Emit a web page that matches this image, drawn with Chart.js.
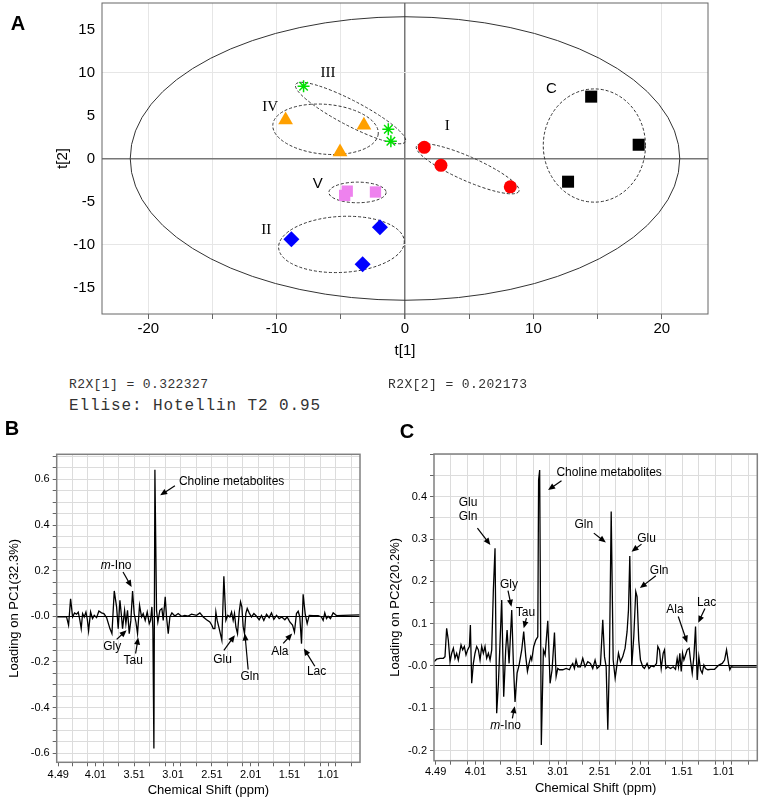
<!DOCTYPE html>
<html>
<head>
<meta charset="utf-8">
<script src="https://cdn.jsdelivr.net/npm/chart.js@4.4.1/dist/chart.umd.min.js"></script>
<style>
  body { margin: 0; background: #fff; width: 771px; height: 804px; position: relative; overflow: hidden;
         font-family: 'Liberation Sans', Arial, sans-serif; }
  .pane { position: absolute; }
  .tag { position: absolute; font-weight: bold; font-size: 20px; transform: translate(-50%, -50%); }
  .mono { position: absolute; font-family: 'Liberation Mono', monospace; color: #333; white-space: pre;
          transform: translateY(-50%); }
</style>
</head>
<body>
<div class="pane" style="left:0;top:0"><canvas id="pca" width="771" height="370"></canvas></div>
<div class="pane" style="left:0;top:420px"><canvas id="pc1" width="385" height="384"></canvas></div>
<div class="pane" style="left:385px;top:420px"><canvas id="pc2" width="386" height="384"></canvas></div>

<div class="tag" style="left:18px;top:23px">A</div>
<div class="tag" style="left:12px;top:428px">B</div>
<div class="tag" style="left:407px;top:431px">C</div>
<div class="mono" style="left:69px;top:384px;font-size:13px;letter-spacing:0.4px">R2X[1] = 0.322327</div>
<div class="mono" style="left:388px;top:384px;font-size:13px;letter-spacing:0.4px">R2X[2] = 0.202173</div>
<div class="mono" style="left:69px;top:406px;font-size:16px;letter-spacing:0.9px">Ellise: Hotellin T2 0.95</div>

<script>
// ---------- panel A: PCA scores ----------
var t1Ticks = [-20, -15, -10, -5, 0, 5, 10, 15, 20];
var t2Ticks = [-15, -10, -5, 0, 5, 10, 15];

var t1C = [14.5, 18.2, 12.7],      t2C = [7.2, 1.6, -2.7];
var t1I = [1.5, 2.8, 8.2],         t2I = [1.3, -0.8, -3.3];
var t1II = [-8.85, -1.95, -3.3],   t2II = [-9.4, -8.0, -12.3];
var t1III = [-7.9, -1.3, -1.1],    t2III = [8.4, 3.4, 2.0];
var t1IV = [-9.3, -3.2, -5.06],    t2IV = [4.47, 3.86, 0.76];
var t1V = [-4.5, -4.7, -2.3],      t2V = [-3.8, -4.3, -3.9];

// Hotelling T2 (0.95) ellipse semi-axes in t[1], t[2] units
var t2Limit = [21.4, 16.5];

// ---------- panels B, C: loadings ----------
var ppmLabels = [4.49, 4.01, 3.51, 3.01, 2.51, 2.01, 1.51, 1.01];
var ppmGrid = [4.31, 4.11, 3.91, 3.71, 3.51, 3.31, 3.11, 2.91, 2.71, 2.51, 2.31, 2.11, 1.91, 1.71, 1.51, 1.31, 1.11, 0.91, 0.71];
var pc1Labels = [0.6, 0.4, 0.2, 0, -0.2, -0.4, -0.6];
var pc2Labels = [0.4, 0.3, 0.2, 0.1, 0, -0.1, -0.2];

var ppmB = [4.51, 4.49, 4.383, 4.357, 4.331, 4.305, 4.28, 4.254, 4.232, 4.211,
  4.194, 4.176, 4.155, 4.133, 4.116, 4.099, 4.073, 4.048, 4.026, 3.996,
  3.966, 3.932, 3.902, 3.867, 3.824, 3.798, 3.768, 3.738, 3.717, 3.695,
  3.678, 3.661, 3.635, 3.618, 3.597, 3.575, 3.554, 3.532, 3.511, 3.489,
  3.468, 3.442, 3.416, 3.395, 3.369, 3.343, 3.317, 3.3, 3.283, 3.27,
  3.257, 3.244, 3.223, 3.206, 3.18, 3.154, 3.137, 3.111, 3.094, 3.072,
  3.051, 3.025, 2.987, 2.944, 2.901, 2.858, 2.815, 2.772, 2.707, 2.664,
  2.621, 2.578, 2.536, 2.51, 2.493, 2.471, 2.458, 2.441, 2.415, 2.381,
  2.355, 2.329, 2.304, 2.278, 2.256, 2.235, 2.218, 2.2, 2.179, 2.157,
  2.14, 2.123, 2.106, 2.089, 2.072, 2.054, 2.029, 1.999, 1.968, 1.934,
  1.9, 1.87, 1.84, 1.805, 1.771, 1.741, 1.711, 1.676, 1.642, 1.608,
  1.569, 1.539, 1.505, 1.47, 1.445, 1.419, 1.397, 1.376, 1.354, 1.333,
  1.307, 1.281, 1.255, 1.204, 1.139, 1.097, 1.075, 1.054, 1.032, 1.011,
  0.981, 0.946, 0.903, 0.817, 0.603];
var loadB = [-0.003, -0.003, -0.003, -0.039, 0.077, -0.003, 0.015, 0.009, 0.018, -0.018,
  -0.054, 0.012, -0.003, 0.019, -0.012, -0.064, 0.019, -0.010, 0.004, -0.006,
  0.023, 0.015, 0.012, -0.006, -0.054, -0.076, 0.111, 0.041, -0.054, 0.070,
  0.012, -0.054, 0.026, -0.032, 0.026, -0.076, -0.018, 0.111, 0.012, -0.025,
  -0.076, 0.048, -0.003, 0.012, -0.018, 0.019, -0.032, -0.018, 0.041, -0.054,
  -0.579, 0.642, 0.026, -0.025, 0.026, 0.034, -0.018, 0.085, -0.003, -0.076,
  -0.003, 0.015, 0.001, 0.012, 0, 0.004, 0.001, 0.009, 0.004, 0.015,
  -0.003, -0.015, -0.025, -0.039, -0.054, -0.054, 0.019, -0.018, -0.054, -0.105,
  0.175, -0.018, 0.004, -0.003, 0.019, -0.018, 0.012, -0.047, -0.076, 0.019,
  0.063, 0.041, -0.047, -0.076, 0.012, 0.034, 0.015, -0.003, 0.012, 0,
  -0.015, 0.004, -0.018, 0.009, -0.006, 0.015, -0.013, 0.004, -0.010, -0.003,
  -0.015, -0.003, -0.025, -0.039, -0.069, 0.012, 0.022, -0.003, -0.120, 0.096,
  0.012, -0.032, 0.004, 0.003, 0.003, -0.003, -0.018, 0.015, -0.010, 0,
  -0.010, 0.015, 0.003, 0.004, 0.006];

var ppmC = [4.51, 4.478, 4.438, 4.397, 4.377, 4.357, 4.337, 4.316, 4.296, 4.276,
  4.256, 4.236, 4.216, 4.183, 4.163, 4.143, 4.123, 4.103, 4.082, 4.07,
  4.054, 4.034, 4.014, 3.994, 3.973, 3.953, 3.933, 3.913, 3.893, 3.873,
  3.852, 3.832, 3.812, 3.792, 3.772, 3.752, 3.731, 3.691, 3.667, 3.643,
  3.626, 3.602, 3.57, 3.55, 3.53, 3.505, 3.481, 3.449, 3.425, 3.4,
  3.38, 3.36, 3.34, 3.328, 3.304, 3.279, 3.255, 3.245, 3.232, 3.212,
  3.187, 3.166, 3.134, 3.106, 3.082, 3.053, 3.033, 3.013, 2.993, 2.953,
  2.912, 2.872, 2.852, 2.832, 2.812, 2.792, 2.771, 2.739, 2.711, 2.683,
  2.65, 2.618, 2.59, 2.562, 2.538, 2.497, 2.469, 2.448, 2.428, 2.408,
  2.388, 2.367, 2.343, 2.319, 2.295, 2.279, 2.255, 2.227, 2.199, 2.175,
  2.158, 2.142, 2.118, 2.094, 2.07, 2.054, 2.034, 2.013, 1.985, 1.965,
  1.933, 1.911, 1.883, 1.851, 1.819, 1.803, 1.783, 1.762, 1.738, 1.722,
  1.706, 1.682, 1.65, 1.617, 1.589, 1.569, 1.553, 1.537, 1.52, 1.504,
  1.488, 1.468, 1.448, 1.424, 1.408, 1.387, 1.367, 1.347, 1.327, 1.307,
  1.286, 1.266, 1.246, 1.226, 1.198, 1.165, 1.117, 1.065, 1.024, 0.996,
  0.972, 0.948, 0.932, 0.916, 0.883, 0.803, 0.601];
var loadC = [0.010, 0.016, 0.018, 0.018, 0.022, 0.089, 0.061, 0.010, 0.030, 0.042,
  0.018, 0.030, 0.014, 0.050, 0.038, 0.046, 0.026, 0.038, 0.046, 0.097,
  -0.041, 0.006, 0.030, 0.046, 0.038, 0.014, 0.046, 0.030, 0.046, 0.018,
  0.030, 0.014, 0.038, 0.180, 0.278, -0.112, -0.041, 0.156, -0.073, 0.038,
  0.085, 0.006, 0.132, 0.006, -0.085, -0.017, 0.002, 0.038, 0.081, 0.022,
  -0.013, 0.006, 0.022, 0.014, 0.046, 0.061, 0.069, 0.440, 0.463, -0.187,
  0.038, 0.026, 0.107, -0.041, -0.009, 0.079, -0.025, -0.006, -0.009, -0.009,
  -0.006, -0.009, 0, 0.006, -0.006, 0.014, -0.002, -0.002, 0.018, -0.002,
  0.010, 0.006, -0.006, 0.014, -0.006, 0.002, 0.109, 0.022, -0.002, -0.151,
  0.022, 0.365, 0.014, -0.029, 0.006, 0.030, 0.010, 0.022, 0.042, 0.081,
  0.132, 0.260, 0, 0.069, 0.176, 0.164, 0.061, 0.014, -0.002, -0.006,
  0.006, -0.006, 0, -0.002, 0.006, 0.046, 0.038, -0.006, 0.030, 0.038,
  -0.006, -0.002, -0.006, -0.002, -0.008, 0.018, -0.002, 0.030, -0.013, 0.030,
  0.014, 0.026, 0.038, 0.042, 0.014, -0.017, 0.022, 0.093, -0.033, 0.022,
  -0.009, -0.017, 0.002, -0.006, -0.009, -0.008, -0.008, 0.002, 0.006, 0.014,
  0.038, 0.006, -0.009, -0.002, -0.003, -0.003, -0.003];

Chart.defaults.font.family = "'Liberation Sans', Arial, sans-serif";
Chart.defaults.color = '#000';

function near(list, v) {
  return list.some(function (a) { return Math.abs(a - v) < 1e-6; });
}

// grey box round the plotting area
var frame = {
  id: 'frame',
  afterDraw: function (chart) {
    var a = chart.chartArea, ctx = chart.ctx;
    ctx.save();
    ctx.strokeStyle = chart.options.frameColor || '#777';
    ctx.lineWidth = chart.options.frameWidth || 1;
    ctx.strokeRect(a.left, a.top, a.right - a.left, a.bottom - a.top);
    ctx.restore();
  }
};

// ---------- A ----------
var groups = [
  { name: 'C',   t1: t1C,   t2: t2C,   style: 'rect',    r: 8.5, color: '#000000' },
  { name: 'I',   t1: t1I,   t2: t2I,   style: 'circle',  r: 6.5, color: '#ff0000' },
  { name: 'II',  t1: t1II,  t2: t2II,  style: 'rectRot', r: 8,   color: '#0000ff' },
  { name: 'III', t1: t1III, t2: t2III, style: 'star',    r: 6,   color: '#00e000' },
  { name: 'IV',  t1: t1IV,  t2: t2IV,  style: 'triangle',r: 8.5, color: '#ffa000' },
  { name: 'V',   t1: t1V,   t2: t2V,   style: 'rect',    r: 8,   color: '#ee82ee' }
];

// group ellipses: centre, semi-axes (t[1] units, t[2] units), tilt on screen
var groupEllipses = [
  { cx: 14.75, cy: 1.51,  rx: 3.98, ry: 6.59, rot: 0 },
  { cx: 4.88,  cy: -1.19, rx: 4.36, ry: 1.4,  rot: 23.8 },
  { cx: -4.95, cy: -10.0, rx: 4.9,  ry: 3.26, rot: -3 },
  { cx: -4.24, cy: 5.29,  rx: 4.82, ry: 1.45, rot: 27.6 },
  { cx: -6.19, cy: 3.4,   rx: 4.12, ry: 2.9,  rot: 5 },
  { cx: -3.7,  cy: -3.95, rx: 2.23, ry: 1.2,  rot: 0 }
];
var groupTags = [
  { t: 'C',   x: 11.4,  y: 8.1,  serif: false },
  { t: 'I',   x: 3.3,   y: 3.75, serif: true },
  { t: 'II',  x: -10.8, y: -8.3, serif: true },
  { t: 'III', x: -6.0,  y: 10.0, serif: true },
  { t: 'IV',  x: -10.5, y: 6.0,  serif: true },
  { t: 'V',   x: -6.8,  y: -3.0, serif: false }
];

var ellipses = {
  id: 'ellipses',
  beforeDatasetsDraw: function (chart) {
    var ctx = chart.ctx, x = chart.scales.x, y = chart.scales.y;
    var sx = Math.abs(x.getPixelForValue(1) - x.getPixelForValue(0));
    var sy = Math.abs(y.getPixelForValue(1) - y.getPixelForValue(0));
    ctx.save();
    ctx.strokeStyle = '#333';
    ctx.lineWidth = 1;
    ctx.beginPath();
    ctx.ellipse(x.getPixelForValue(0), y.getPixelForValue(0), t2Limit[0] * sx, t2Limit[1] * sy, 0, 0, 2 * Math.PI);
    ctx.stroke();
    ctx.setLineDash([3, 2]);
    groupEllipses.forEach(function (e) {
      ctx.beginPath();
      ctx.ellipse(x.getPixelForValue(e.cx), y.getPixelForValue(e.cy), e.rx * sx, e.ry * sy,
                  e.rot * Math.PI / 180, 0, 2 * Math.PI);
      ctx.stroke();
    });
    ctx.setLineDash([]);
    ctx.fillStyle = '#000';
    ctx.textAlign = 'center';
    ctx.textBaseline = 'middle';
    groupTags.forEach(function (g) {
      ctx.font = g.serif ? "15px 'Liberation Serif', serif" : "15px 'Liberation Sans', Arial, sans-serif";
      ctx.fillText(g.t, x.getPixelForValue(g.x), y.getPixelForValue(g.y));
    });
    ctx.restore();
  }
};

new Chart(document.getElementById('pca'), {
  type: 'scatter',
  data: {
    datasets: groups.map(function (g) {
      return {
        label: g.name,
        data: g.t1.map(function (v, i) { return { x: v, y: g.t2[i] }; }),
        pointStyle: g.style,
        pointRadius: g.r,
        backgroundColor: g.color,
        borderColor: g.color,
        borderWidth: g.style === 'star' ? 1.5 : 0
      };
    })
  },
  options: {
    responsive: false,
    animation: false,
    events: [],
    frameColor: '#666',
    layout: { autoPadding: false, padding: { top: 3, right: 63, left: 0, bottom: 0 } },
    plugins: { legend: { display: false }, tooltip: { enabled: false } },
    scales: {
      x: {
        min: -23.6, max: 23.6,
        afterBuildTicks: function (s) { s.ticks = t1Ticks.map(function (v) { return { value: v }; }); },
        afterFit: function (s) { s.height = 56; },
        ticks: { autoSkip: false, maxRotation: 0, padding: 1, font: { size: 15 },
                 callback: function (v) { return v % 10 === 0 ? String(v) : ''; } },
        grid: { color: function (c) { return c.tick.value === 0 ? '#777' : '#e6e6e6'; },
                lineWidth: function (c) { return c.tick.value === 0 ? 1.5 : 1; },
                tickLength: 5, tickColor: '#666' },
        border: { display: false },
        title: { display: true, text: 't[1]', font: { size: 15 }, padding: { top: 0, bottom: 10 } }
      },
      y: {
        min: -18.1, max: 18.1,
        afterBuildTicks: function (s) { s.ticks = t2Ticks.map(function (v) { return { value: v }; }); },
        afterFit: function (s) { s.width = 102; s.paddingTop = 0; s.paddingBottom = 0; },
        ticks: { autoSkip: false, padding: 7, font: { size: 15 } },
        grid: { color: function (c) {
                  if (c.tick.value === 0) return '#777';
                  return Math.abs(c.tick.value) === 10 ? '#e6e6e6' : 'rgba(0,0,0,0)';
                },
                lineWidth: function (c) { return c.tick.value === 0 ? 1.5 : 1; },
                drawTicks: false },
        border: { display: false },
        title: { display: true, text: 't[2]', font: { size: 15 }, padding: { top: 54, bottom: 0 } }
      }
    }
  },
  plugins: [ellipses, frame]
});

// ---------- B, C ----------
function arrow(ctx, x1, y1, x2, y2) {
  var a = Math.atan2(y2 - y1, x2 - x1), L = 7, W = 3;
  ctx.beginPath();
  ctx.moveTo(x1, y1);
  ctx.lineTo(x2 - L * 0.7 * Math.cos(a), y2 - L * 0.7 * Math.sin(a));
  ctx.stroke();
  ctx.beginPath();
  ctx.moveTo(x2, y2);
  ctx.lineTo(x2 - L * Math.cos(a) + W * Math.sin(a), y2 - L * Math.sin(a) - W * Math.cos(a));
  ctx.lineTo(x2 - L * Math.cos(a) - W * Math.sin(a), y2 - L * Math.sin(a) + W * Math.cos(a));
  ctx.closePath();
  ctx.fill();
}

function notes(list) {
  return {
    id: 'notes',
    afterDatasetsDraw: function (chart) {
      var ctx = chart.ctx, x = chart.scales.x, y = chart.scales.y;
      ctx.save();
      ctx.fillStyle = '#000';
      ctx.strokeStyle = '#000';
      ctx.lineWidth = 1.2;
      ctx.textBaseline = 'middle';
      list.forEach(function (n) {
        if (n.from) {
          arrow(ctx, x.getPixelForValue(n.from[0]), y.getPixelForValue(n.from[1]),
                     x.getPixelForValue(n.to[0]), y.getPixelForValue(n.to[1]));
        }
        var px = x.getPixelForValue(n.x), py = y.getPixelForValue(n.y);
        var norm = "12px 'Liberation Sans', Arial, sans-serif";
        var ital = "italic 12px 'Liberation Sans', Arial, sans-serif";
        ctx.font = ital;
        var wi = n.italic ? ctx.measureText(n.italic).width : 0;
        ctx.font = norm;
        var w = wi + ctx.measureText(n.text).width;
        var left = n.align === 'left' ? px : px - w / 2;
        ctx.textAlign = 'left';
        if (n.italic) {
          ctx.font = ital;
          ctx.fillText(n.italic, left, py);
          ctx.font = norm;
        }
        ctx.fillText(n.text, left + wi, py);
      });
      ctx.restore();
    }
  };
}

var notesB = [
  { text: 'Choline metabolites', x: 2.934, y: 0.591, align: 'left', from: [2.986, 0.572], to: [3.176, 0.530] },
  { italic: 'm', text: '-Ino', x: 3.743, y: 0.222, from: [3.655, 0.194], to: [3.544, 0.128] },
  { text: 'Gly', x: 3.794, y: -0.134, from: [3.737, -0.101], to: [3.609, -0.061] },
  { text: 'Tau', x: 3.523, y: -0.196, from: [3.493, -0.163], to: [3.459, -0.093] },
  { text: 'Glu', x: 2.371, y: -0.189, from: [2.355, -0.149], to: [2.213, -0.083] },
  { text: 'Gln', x: 2.020, y: -0.266, from: [2.042, -0.233], to: [2.084, -0.076] },
  { text: 'Ala', x: 1.633, y: -0.153, from: [1.590, -0.119], to: [1.474, -0.076] },
  { text: 'Lac', x: 1.160, y: -0.244, from: [1.182, -0.219], to: [1.324, -0.141] }
];
var notesC = [
  { text: 'Choline metabolites', x: 3.029, y: 0.457, align: 'left', from: [2.968, 0.438], to: [3.130, 0.416] },
  { text: 'Glu', x: 4.099, y: 0.385 },
  { text: 'Gln', x: 4.099, y: 0.353, from: [3.985, 0.326], to: [3.828, 0.286] },
  { text: 'Gly', x: 3.603, y: 0.191, from: [3.615, 0.178], to: [3.574, 0.140] },
  { text: 'Tau', x: 3.404, y: 0.127, from: [3.392, 0.113], to: [3.425, 0.089] },
  { italic: 'm', text: '-Ino', x: 3.643, y: -0.141, from: [3.562, -0.124], to: [3.534, -0.095] },
  { text: 'Gln', x: 2.698, y: 0.333, from: [2.577, 0.314], to: [2.432, 0.292] },
  { text: 'Glu', x: 1.939, y: 0.300, from: [2.0, 0.288], to: [2.121, 0.270] },
  { text: 'Gln', x: 1.787, y: 0.226, from: [1.827, 0.213], to: [2.020, 0.184] },
  { text: 'Ala', x: 1.596, y: 0.134, from: [1.556, 0.117], to: [1.448, 0.055] },
  { text: 'Lac', x: 1.213, y: 0.150, from: [1.233, 0.136], to: [1.314, 0.102] }
];

function loadingChart(id, ppm, load, o) {
  var yGrid = [];
  for (var k = Math.ceil(o.min / 0.05); k * 0.05 <= o.max + 1e-9; k++) yGrid.push(Math.round(k * 5) / 100);
  var xTicks = ppmGrid.concat(ppmLabels.filter(function (v) { return !near(ppmGrid, v); }));
  return new Chart(document.getElementById(id), {
    type: 'scatter',
    data: {
      datasets: [{
        data: ppm.map(function (v, i) { return { x: v, y: load[i] }; }),
        showLine: true,
        borderColor: '#000',
        borderWidth: 1.3,
        pointRadius: 0,
        tension: 0
      }]
    },
    options: {
      responsive: false,
      animation: false,
      events: [],
      frameColor: '#808080',
      frameWidth: 1.5,
      layout: { autoPadding: false, padding: { top: o.top, right: o.right, left: 0, bottom: 0 } },
      plugins: { legend: { display: false }, tooltip: { enabled: false } },
      scales: {
        x: {
          type: 'linear', reverse: true, min: 0.6, max: 4.51,
          afterBuildTicks: function (s) { s.ticks = xTicks.map(function (v) { return { value: v }; }); },
          afterFit: function (s) { s.height = o.xh; },
          ticks: { autoSkip: false, maxRotation: 0, padding: o.xpad, font: { size: 11 },
                   callback: function (v) { return near(ppmLabels, v) ? v.toFixed(2) : ''; } },
          grid: { color: function (c) { return near(ppmGrid, c.tick.value) ? '#dcdcdc' : 'rgba(0,0,0,0)'; },
                  tickLength: 4, tickColor: '#666' },
          border: { display: false },
          title: { display: true, text: 'Chemical Shift (ppm)', font: { size: 13 },
                   padding: { top: 0, bottom: o.xtp } }
        },
        y: {
          min: o.min, max: o.max,
          afterBuildTicks: function (s) { s.ticks = yGrid.map(function (v) { return { value: v }; }); },
          afterFit: function (s) { s.width = o.yw; s.paddingTop = 0; s.paddingBottom = 0; },
          ticks: { autoSkip: false, padding: 3, font: { size: 11 },
                   callback: function (v) {
                     if (!near(o.labels, v)) return '';
                     return Math.abs(v) < 1e-9 ? '-0.0' : v.toFixed(1);
                   } },
          grid: { color: function (c) { return Math.abs(c.tick.value) < 1e-9 ? '#000' : '#dcdcdc'; },
                  tickLength: 4, tickColor: '#666' },
          border: { display: false },
          title: { display: true, text: o.title, font: { size: 13 }, padding: { top: o.ytp, bottom: 0 } }
        }
      }
    },
    plugins: [frame, notes(o.notes)]
  });
}

loadingChart('pc1', ppmB, loadB, {
  min: -0.64, max: 0.71, labels: pc1Labels, title: 'Loading on PC1(32.3%)', notes: notesB,
  top: 34.3, right: 25, yw: 56.7, xh: 41.7, xpad: 2, xtp: 5.5, ytp: 7
});
loadingChart('pc2', ppmC, loadC, {
  min: -0.224, max: 0.501, labels: pc2Labels, title: 'Loading on PC2(20.2%)', notes: notesC,
  top: 34, right: 13.7, yw: 49, xh: 43.3, xpad: 1, xtp: 8.2, ytp: 2.2
});
</script>
</body>
</html>
